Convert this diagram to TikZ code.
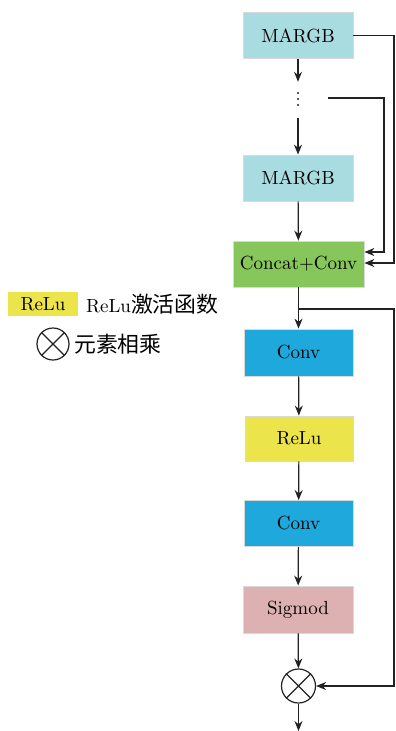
\documentclass[tikz,border=0pt]{standalone}
\usepackage{fontspec}
\setmainfont{lmroman10-regular.otf}
\newfontfamily\cjk[Scale=1.15]{Noto Sans CJK SC}
\usetikzlibrary{arrows.meta,calc}
\definecolor{cmargb}{HTML}{A8DCE1}
\definecolor{cconcat}{HTML}{87C65A}
\definecolor{cconv}{HTML}{1FA8DC}
\definecolor{crelu}{HTML}{EBE54B}
\definecolor{csig}{HTML}{DDB1B1}
\definecolor{cline}{HTML}{222222}
\tikzset{
  blk/.style={draw=black!15, line width=0.8pt, minimum width=110pt, minimum height=46pt, inner sep=0pt, font=\fontsize{19}{23}\selectfont, text=black},
  arr/.style={draw=cline, line width=1.2pt, -{Stealth[length=10pt,width=8pt]}},
  ln/.style={draw=cline, line width=1.2pt},
  lbl/.style={font=\fontsize{19}{23}\selectfont, text=black, inner sep=0pt, anchor=west},
}
\begin{document}
\begin{tikzpicture}[x=1pt,y=-1pt]
\useasboundingbox (0,0) rectangle (396,731);
% main column
\node[blk, fill=cmargb] (m1) at (298,35.5) {MARGB};
\node[minimum height=36pt, minimum width=10pt, inner sep=0pt] (dots) at (298,100) {};
\fill[cline] (298,93) circle (1.2) (298,99) circle (1.2) (298,105) circle (1.2);
\node[blk, fill=cmargb] (m2) at (298,178) {MARGB};
\node[blk, fill=cconcat, minimum width=131pt] (cc) at (298.5,264) {Concat+Conv};
\node[blk, fill=cconv, minimum width=109pt, minimum height=47pt] (conv1) at (298.5,352.5) {Conv};
\node[blk, fill=crelu, minimum width=108pt, minimum height=45pt] (relu) at (299,438.5) {ReLu};
\node[blk, fill=cconv, minimum width=109pt] (conv2) at (298.5,523.5) {Conv};
\node[blk, fill=csig, minimum height=47pt] (sig) at (298,609.5) {Sigmod};
\node[draw=cline, line width=1.2pt, circle, minimum size=34pt, inner sep=0pt] (mul) at (298.5,686) {};
\draw[ln] (mul.45) -- (mul.225) (mul.135) -- (mul.315);
\coordinate (out) at (298.5,731);
% helper coordinates
\coordinate (d0) at (328,98);
\coordinate (br) at (298.5,309);
\coordinate (rx) at (394,309);
% vertical flow
\draw[arr] (m1) -- (dots);
\draw[arr] (dots) -- (m2);
\draw[arr] (m2) -- (cc);
\draw[arr] (cc) -- (conv1);
\draw[arr] (conv1) -- (relu);
\draw[arr] (relu) -- (conv2);
\draw[arr] (conv2) -- (sig);
\draw[arr] (sig) -- (mul);
\draw[arr] (mul) -- (out);
% feedback lines
\draw[arr] (m1.east) -- (m1.east -| rx) |- ($(cc.east)+(0,-1)$);
\draw[arr] (d0) -- (384,98) |- ($(cc.east)+(0,-12)$);
\draw[arr] (br) -- (rx) |- (mul.east);
% legend
\node[fill=crelu, minimum width=70pt, minimum height=24pt, inner sep=0pt, font=\fontsize{19}{23}\selectfont, text=black] (lrelu) at (43,304) {ReLu};
\node[lbl] (ltxt) at (86,304) {ReLu{\cjk 激活函数}};
\node[draw=cline, line width=1.2pt, circle, minimum size=32pt, inner sep=0pt] (lmul) at (53,344) {};
\draw[ln] (lmul.45) -- (lmul.225) (lmul.135) -- (lmul.315);
\node[lbl] (ltxt2) at (74,344) {\cjk 元素相乘};
\end{tikzpicture}
\end{document}
